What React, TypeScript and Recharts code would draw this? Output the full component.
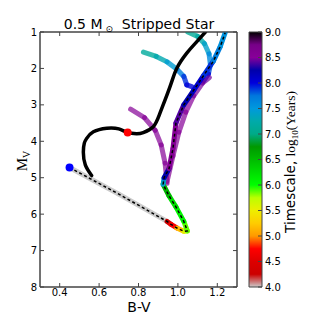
import React from 'react';
import { ComposedChart, Line, Scatter, XAxis, YAxis, ZAxis, ReferenceArea } from 'recharts';

const xTicks = [0.4, 0.6, 0.8, 1.0, 1.2];
const yTicks = [1, 2, 3, 4, 5, 6, 7, 8];
const cbTicks = [4.0, 4.5, 5.0, 5.5, 6.0, 6.5, 7.0, 7.5, 8.0, 8.5, 9.0];

// stripped star track (drawn with the dashed line on top)
const mainBV = [0.45, 0.7, 0.945, 0.965, 0.995, 1.03, 1.048, 1.03, 0.99, 0.955, 0.925, 0.93, 0.955, 0.975, 0.99, 1.03, 1.08, 1.13, 1.18, 1.215, 1.24];
const mainMV = [4.72, 5.45, 6.2, 6.28, 6.38, 6.47, 6.46, 6.2, 5.8, 5.5, 5.18, 5.0, 4.75, 4.2, 3.5, 3.0, 2.6, 2.2, 1.8, 1.4, 1.02];
const mainT = [4.0, 4.0, 4.0, 4.5, 4.95, 5.4, 5.75, 6.0, 6.15, 6.3, 6.8, 8.0, 8.5, 8.6, 8.5, 8.3, 8.15, 8.0, 7.8, 7.6, 7.5];

// side tracks
const sideBV = [0.945, 0.975, 1.005, 1.04, 1.08, 1.125, 1.16];
const sideMV = [5.1, 4.4, 3.75, 3.2, 2.75, 2.4, 2.25];
const sideT = [8.6, 8.6, 8.55, 8.5, 8.5, 8.45, 8.45];

const branchBV = [0.76, 0.83, 0.885, 0.915, 0.935, 0.945];
const branchMV = [3.12, 3.35, 3.7, 4.1, 4.6, 5.15];
const branchT = [8.55, 8.55, 8.55, 8.55, 8.55, 8.55];

const tealBV = [0.825, 0.89, 0.945, 0.995, 1.03, 1.045, 1.07];
const tealMV = [1.55, 1.67, 1.82, 2.02, 2.22, 2.45, 2.5];
const tealT = [7.1, 7.2, 7.35, 7.55, 7.8, 8.0, 8.05];

const topBV = [1.05, 1.1, 1.135, 1.158, 1.165, 1.155, 1.13];
const topMV = [1.0, 1.12, 1.32, 1.6, 1.9, 2.15, 2.35];
const topT = [7.05, 7.15, 7.3, 7.5, 7.7, 7.95, 8.1];

// primary track (black)
const blackBV = [0.562, 0.53, 0.52, 0.525, 0.537, 0.571, 0.639, 0.7, 0.745, 0.79, 0.824, 0.875, 0.909, 0.96, 0.994, 1.045, 1.095, 1.14];
const blackMV = [4.94, 4.65, 4.3, 4.05, 3.92, 3.74, 3.64, 3.66, 3.76, 3.79, 3.76, 3.6, 3.23, 2.5, 2.0, 1.58, 1.27, 1.0];

const redDot = [{ bv: 0.745, mv: 3.76 }];
const blueDot = [{ bv: 0.45, mv: 4.72 }];

const FONT = 'DejaVu Sans, sans-serif';
const AXIS = '#444';

// nipy_spectral
const NIPY: number[][] = [
  [0.0, 0, 0, 0], [0.05, 0.4667, 0, 0.5333], [0.1, 0.5333, 0, 0.6], [0.15, 0, 0, 0.6667],
  [0.2, 0, 0, 0.8667], [0.25, 0, 0.4667, 0.8667], [0.3, 0, 0.6, 0.8667], [0.35, 0, 0.6667, 0.6667],
  [0.4, 0, 0.6667, 0.5333], [0.45, 0, 0.6, 0], [0.5, 0, 0.7333, 0], [0.55, 0, 0.8667, 0],
  [0.6, 0, 1, 0], [0.65, 0.7333, 1, 0], [0.7, 0.9333, 0.9333, 0], [0.75, 1, 0.8, 0],
  [0.8, 1, 0.6, 0], [0.85, 1, 0, 0], [0.9, 0.8667, 0, 0], [0.95, 0.8, 0, 0], [1.0, 0.8, 0.8, 0.8],
];

const rgb = (r: number, g: number, b: number) =>
  `rgb(${Math.round(r * 255)},${Math.round(g * 255)},${Math.round(b * 255)})`;

function nipy(s: number) {
  s = Math.max(0, Math.min(1, s));
  for (let i = 0; i < NIPY.length - 1; i++) {
    const a = NIPY[i], b = NIPY[i + 1];
    if (s <= b[0]) {
      const f = (s - a[0]) / (b[0] - a[0]);
      return rgb(a[1] + (b[1] - a[1]) * f, a[2] + (b[2] - a[2]) * f, a[3] + (b[3] - a[3]) * f);
    }
  }
  return rgb(0.8, 0.8, 0.8);
}

// reversed, 4..9
const cmap = (v: number) => nipy((9 - v) / 5);

function segments(bv: number[], mv: number[], t: number[]) {
  const out: { pts: { bv: number; mv: number }[]; color: string }[] = [];
  for (let i = 0; i < bv.length - 1; i++) {
    out.push({
      pts: [{ bv: bv[i], mv: mv[i] }, { bv: bv[i + 1], mv: mv[i + 1] }],
      color: cmap((t[i] + t[i + 1]) / 2),
    });
  }
  return out;
}

const toPts = (bv: number[], mv: number[]) => bv.map((b, i) => ({ bv: b, mv: mv[i] }));

const tracks = [
  { segs: segments(topBV, topMV, topT), op: 0.8 },
  { segs: segments(tealBV, tealMV, tealT), op: 0.8 },
  { segs: segments(branchBV, branchMV, branchT), op: 0.7 },
  { segs: segments(sideBV, sideMV, sideT), op: 0.7 },
  { segs: segments(mainBV, mainMV, mainT), op: 1 },
];

const TitleAndYLab = () => (
  <g>
    <text x={139} y={29} textAnchor="middle" fontSize={14} fontFamily={FONT} fill="#000">
      0.5 M
      <tspan fontSize={9} dy={3}>{'\u00a0\u2299'}</tspan>
      <tspan dy={-3}>{'\u00a0\u00a0Stripped Star'}</tspan>
    </text>
    <text transform="rotate(-90, 27, 161)" x={27} y={161} textAnchor="middle" fontSize={15} fontFamily="Liberation Serif, serif" fill="#000">
      M<tspan fontSize={10} dy={3}>V</tspan>
    </text>
  </g>
);

const XLab = () => (
  <text x={139} y={312} textAnchor="middle" fontSize={14} fontFamily={FONT} fill="#000">B-V</text>
);

const CbLab = () => (
  <text transform="rotate(-90, 295, 162)" x={295} y={162} textAnchor="middle" fontSize={13.5} fontFamily={FONT} fill="#000">
    {'Timescale,\u00a0'}
    <tspan fontFamily="Liberation Serif, serif">log</tspan>
    <tspan fontFamily="Liberation Serif, serif" fontSize={9} dy={3}>10</tspan>
    <tspan fontFamily="Liberation Serif, serif" dy={-3}>(Years)</tspan>
  </text>
);

const tickStyle = { fontSize: 10, fontFamily: FONT, fill: '#000' };

export default function App() {
  return (
    <div style={{ position: 'absolute', left: 0, top: 0, width: 319, height: 319, background: '#fff' }}>
      <div style={{ position: 'absolute', left: 0, top: 0 }}>
        <ComposedChart width={319} height={319} margin={{ top: 32, right: 82, bottom: 0, left: 0 }}>
          <XAxis
            dataKey="bv"
            type="number"
            domain={[0.3, 1.3]}
            ticks={xTicks}
            allowDataOverflow
            height={32}
            tickSize={-4}
            tickMargin={6}
            tickFormatter={(v: number) => v.toFixed(1)}
            tick={tickStyle}
            stroke={AXIS}
            label={<XLab />}
          />
          <XAxis
            xAxisId="top"
            dataKey="bv"
            type="number"
            orientation="top"
            mirror
            domain={[0.3, 1.3]}
            ticks={xTicks}
            allowDataOverflow
            height={20}
            tickSize={4}
            tickFormatter={() => ''}
            stroke={AXIS}
          />
          <YAxis
            dataKey="mv"
            type="number"
            reversed
            domain={[1, 8]}
            ticks={yTicks}
            allowDataOverflow
            width={40}
            tickSize={-4}
            tickMargin={7}
            tick={tickStyle}
            stroke={AXIS}
            label={<TitleAndYLab />}
          />
          <YAxis
            yAxisId="r"
            dataKey="mv"
            type="number"
            orientation="right"
            mirror
            reversed
            domain={[1, 8]}
            ticks={yTicks}
            allowDataOverflow
            width={20}
            tickSize={4}
            tickFormatter={() => ''}
            stroke={AXIS}
          />
          <ZAxis range={[50, 50]} />
          <ReferenceArea x1={0.3} x2={1.3} y1={1} y2={8} fill="none" stroke={AXIS} strokeWidth={1} ifOverflow="visible" />
          {tracks.map((tr, ti) =>
            tr.segs.map((s, si) => (
              <Line
                key={`t${ti}-${si}`}
                data={s.pts}
                dataKey="mv"
                type="linear"
                stroke={s.color}
                strokeOpacity={tr.op}
                strokeWidth={5}
                strokeLinecap="round"
                dot={false}
                activeDot={false}
                isAnimationActive={false}
              />
            ))
          )}
          <Line
            data={toPts(blackBV, blackMV)}
            dataKey="mv"
            type="natural"
            stroke="#000"
            strokeWidth={3.5}
            strokeLinecap="round"
            dot={false}
            activeDot={false}
            isAnimationActive={false}
          />
          <Line
            data={toPts(mainBV, mainMV)}
            dataKey="mv"
            type="linear"
            stroke="#000"
            strokeWidth={1.5}
            strokeDasharray="3 2.5"
            dot={false}
            activeDot={false}
            isAnimationActive={false}
          />
          <Scatter data={redDot} fill="#ff0000" isAnimationActive={false} />
          <Scatter data={blueDot} fill="#0000ff" isAnimationActive={false} />
        </ComposedChart>
      </div>
      <div style={{ position: 'absolute', left: 0, top: 0 }}>
        <ComposedChart
          width={319}
          height={319}
          data={cbTicks.map((v) => ({ x: 0.5, v }))}
          margin={{ top: 32, right: 0, bottom: 32, left: 249 }}
        >
          <defs>
            <linearGradient id="cmap" x1="0" y1="0" x2="0" y2="1">
              {NIPY.map((c) => (
                <stop key={c[0]} offset={`${c[0] * 100}%`} stopColor={rgb(c[1], c[2], c[3])} />
              ))}
            </linearGradient>
          </defs>
          <XAxis dataKey="x" type="number" domain={[0, 1]} hide />
          <YAxis
            dataKey="v"
            type="number"
            orientation="right"
            domain={[4, 9]}
            ticks={cbTicks}
            width={57}
            tickSize={-4}
            tickMargin={7}
            tickFormatter={(v: number) => v.toFixed(1)}
            tick={tickStyle}
            stroke={AXIS}
            axisLine={false}
            label={<CbLab />}
          />
          <ReferenceArea x1={0} x2={1} y1={4} y2={9} fill="url(#cmap)" fillOpacity={1} stroke={AXIS} strokeWidth={1} ifOverflow="visible" />
        </ComposedChart>
      </div>
    </div>
  );
}
